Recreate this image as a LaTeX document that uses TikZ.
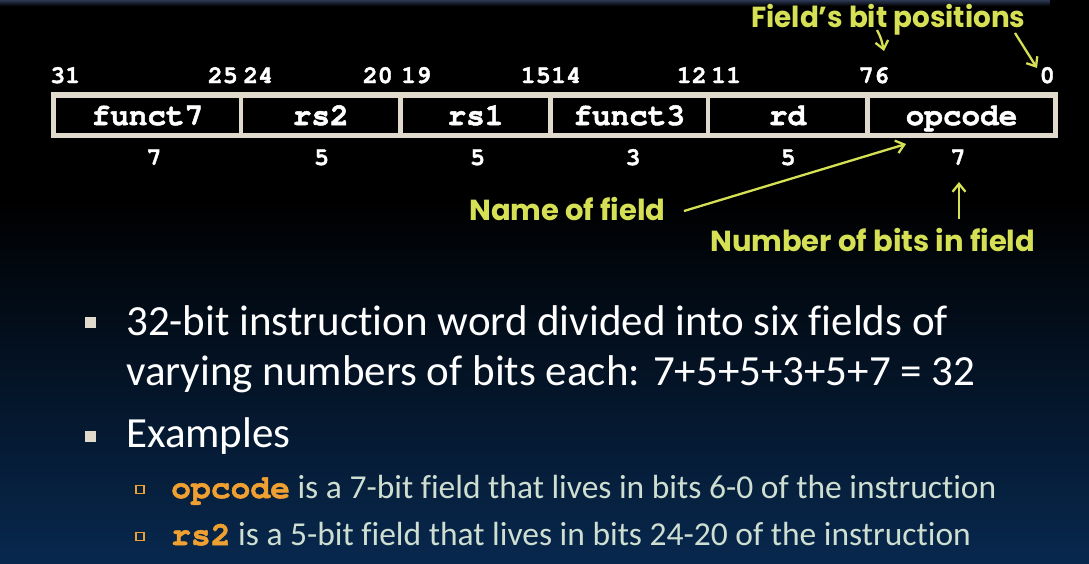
\documentclass[tikz,border=0pt]{standalone}
\usepackage{fontspec}
\setmainfont{Carlito}[Ligatures=CommonOff]
\newfontfamily\monof{TeX Gyre Cursor}[BoldFeatures={FakeBold=1.6}]
\newfontfamily\annf{Poppins}
\usetikzlibrary{arrows.meta}
\definecolor{framec}{RGB}{224,218,204}
\definecolor{ylw}{RGB}{214,224,84}
\definecolor{org}{RGB}{240,160,48}
\definecolor{sage}{RGB}{206,222,208}
\definecolor{navy}{RGB}{8,40,78}
\definecolor{topbar}{RGB}{44,56,84}
\begin{document}
\begin{tikzpicture}[x=1pt,y=-1pt,
  cell/.style={fill=black, minimum height=35pt, inner sep=0pt, outer sep=0pt,
    text=white, text height=19pt, text depth=0pt,
    font=\monof\bfseries\fontsize{31}{31}\selectfont},
  bitno/.style={text=white, font=\monof\bfseries\fontsize{25}{25}\selectfont, inner sep=0pt},
  annot/.style={text=ylw, font=\annf\bfseries\fontsize{29}{29}\selectfont, inner sep=0pt, anchor=base west},
  yarrow/.style={draw=ylw, line width=2.3pt, -{Straight Barb[length=8pt,width=13pt]}},
  body/.style={text=white, font=\fontsize{43}{43}\selectfont, inner sep=0pt, anchor=base west},
  subtxt/.style={text=sage, font=\fontsize{33.5}{33.5}\selectfont, inner sep=0pt, anchor=base west},
  bigbullet/.style={fill=framec, minimum size=11pt, inner sep=0pt},
  smallbullet/.style={draw=org, line width=1.2pt, minimum size=8pt, inner sep=0pt},
]
\useasboundingbox (0,0) rectangle (1089,563);
% background
\fill[black] (0,0) rectangle (1089,563);
\shade[top color=black, bottom color=navy] (0,200) rectangle (1089,563);
\shade[top color=topbar, bottom color=black] (0,0) rectangle (1050,6);

% instruction format
\fill[framec] (51,92) rectangle (1058,138);
\node[cell, minimum width=183pt]   (c1) at (147.5,115.5)  {funct7};
\node[cell, minimum width=155pt]   (c2) at (320.75,115.5) {rs2};
\node[cell, minimum width=145pt]   (c3) at (475.5,115.5)  {rs1};
\node[cell, minimum width=152.5pt] (c4) at (629.25,115.5) {funct3};
\node[cell, minimum width=155pt]   (c5) at (787.5,115.5)  {rd};
\node[cell, minimum width=183pt]   (c6) at (961.5,115.5)  {opcode};

% bit positions
\node[bitno, anchor=base west] (b31) at (50,83)  {31};
\node[bitno, anchor=base east] (b25) at (238,83) {25};
\node[bitno, anchor=base west] (b24) at (243,83) {24};
\node[bitno, anchor=base east] (b20) at (393,83) {20};
\node[bitno, anchor=base west] (b19) at (401,83) {19};
\node[bitno, anchor=base east] (b15) at (551,83) {15};
\node[bitno, anchor=base west] (b14) at (551,83) {14};
\node[bitno, anchor=base east] (b12) at (707,83) {12};
\node[bitno, anchor=base west] (b11) at (711,83) {11};
\node[bitno, anchor=base east] (b7)  at (874,83) {7};
\node[bitno, anchor=base west] (b6)  at (874,83) {6};
\node[bitno, anchor=base east] (b0)  at (1055,83) {0};

% field widths
\node[bitno, anchor=base] (w1) at (154,165)   {7};
\node[bitno, anchor=base] (w2) at (321.5,165) {5};
\node[bitno, anchor=base] (w3) at (477.5,165) {5};
\node[bitno, anchor=base] (w4) at (633,165)   {3};
\node[bitno, anchor=base] (w5) at (788,165)   {5};
\node[bitno, anchor=base] (w6) at (958,165)   {7};

% annotations
\node[annot] (fbp) at (751,27)  {\scalebox{0.96}[1]{Field’s bit positions}};
\node[annot] (nof) at (469,220) {Name of field};
\node[annot] (nob) at (710,251) {Number of bits in field};

\coordinate (a1s) at (877,30);   \coordinate (a1e) at (884,51);
\coordinate (a2s) at (1015,33);  \coordinate (a2e) at (1037,68);
\coordinate (a3s) at (684,211);  \coordinate (a3e) at (906,144);
\coordinate (a4s) at (959,219);  \coordinate (a4e) at (959,182);
\draw[yarrow] (a1s) .. controls (881,38) .. (a1e);
\draw[yarrow] (a2s) -- (a2e);
\draw[yarrow] (a3s) -- (a3e);
\draw[yarrow] (a4s) -- (a4e);

% bullets
\node[bigbullet] (bl1) at (90,322) {};
\node[body] (t1) at (126,335) {32-bit instruction word divided into six fields of};
\node[body] (t2) at (126,385) {varying numbers of bits each: 7+5+5+3+5+7 = 32};
\node[bigbullet] (bl2) at (90,436) {};
\node[body] (t3) at (126,447) {Examples};
\node[smallbullet] (sb1) at (140,489.5) {};
\node[subtxt] (s1) at (171,498) {{\monof\bfseries\fontsize{33}{33}\selectfont\color{org}opcode} is a 7-bit field that lives in bits 6-0 of the instruction};
\node[smallbullet] (sb2) at (140,536.5) {};
\node[subtxt] (s2) at (171,545) {{\monof\bfseries\fontsize{33}{33}\selectfont\color{org}rs2} is a 5-bit field that lives in bits 24-20 of the instruction};
\end{tikzpicture}
\end{document}
